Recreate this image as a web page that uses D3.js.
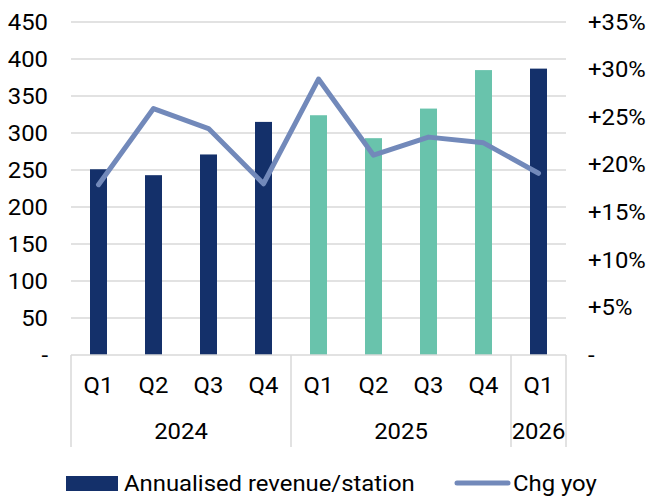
<!DOCTYPE html>
<html>
<head>
<meta charset="utf-8">
<script src="https://cdn.jsdelivr.net/npm/d3@7"></script>
<style>
  body { margin: 0; background: #fff; }
  svg { display: block; font-family: Roboto, "Noto Sans", sans-serif; }
</style>
</head>
<body>
<svg id="chart" width="648" height="497"></svg>
<script>
const width = 648, height = 497;
const svg = d3.select("#chart");

// Chart data
const quarters = ["Q1", "Q2", "Q3", "Q4", "Q1", "Q2", "Q3", "Q4", "Q1"];
const years = ["2024", "2024", "2024", "2024", "2025", "2025", "2025", "2025", "2026"];
const revenue = [251, 243, 271, 315, 324, 293, 333, 385, 387];
const chgYoy = [17.9, 25.9, 23.8, 18.0, 29.0, 21.0, 22.9, 22.3, 19.1];
const leftTicks = [0, 50, 100, 150, 200, 250, 300, 350, 400, 450];
const rightTicks = [0, 5, 10, 15, 20, 25, 30, 35];

const navy = "#14306a", teal = "#69c3ac", lineColor = "#7289ba";
const barColor = (d, i) => years[i] === "2025" ? teal : navy;

const margin = { left: 71, right: 82, top: 22, bottom: 142 };
const plotBottom = height - margin.bottom;
const fontSize = 21.5, stretch = 1.11; // reference text is slightly wide

const idx = d3.range(quarters.length);
const x = d3.scaleBand().domain(idx).range([margin.left, width - margin.right]);
const yL = d3.scaleLinear().domain([0, 450]).range([plotBottom, margin.top]);
const yR = d3.scaleLinear().domain([0, 35]).range([plotBottom, margin.top]);

// text placed with a horizontal stretch
function place(sel, fx, fy) {
    return sel.attr("transform", (d, i) => `translate(${fx(d, i)},${fy(d, i)}) scale(${stretch},1)`)
        .attr("font-size", fontSize).attr("fill", "#000");
}

// gridlines
svg.append("g").selectAll("line")
    .data(leftTicks.filter(d => d > 0)).enter().append("line")
    .attr("x1", margin.left).attr("x2", width - margin.right)
    .attr("y1", d => yL(d)).attr("y2", d => yL(d))
    .attr("stroke", "#d9d9d9").attr("stroke-width", 1.5);

// bars
const barW = 17;
svg.append("g").selectAll("rect")
    .data(revenue).enter().append("rect")
    .attr("x", (d, i) => x(i) + x.bandwidth() / 2 - barW / 2)
    .attr("y", d => yL(d))
    .attr("width", barW)
    .attr("height", d => plotBottom - yL(d))
    .attr("fill", barColor);

// line
const line = d3.line()
    .x((d, i) => x(i) + x.bandwidth() / 2)
    .y(d => yR(d));
svg.append("path").datum(chgYoy)
    .attr("fill", "none").attr("stroke", lineColor).attr("stroke-width", 5)
    .attr("stroke-linejoin", "round").attr("stroke-linecap", "round")
    .attr("d", line);

// left axis labels
place(svg.append("g").selectAll("text")
    .data(leftTicks).enter().append("text"), () => 48, d => yL(d))
    .attr("dy", "0.36em").attr("text-anchor", "end")
    .text(d => d === 0 ? "-" : d);

// right axis labels
place(svg.append("g").selectAll("text")
    .data(rightTicks).enter().append("text"), () => 588, d => yR(d))
    .attr("dy", "0.36em").attr("text-anchor", "start")
    .text(d => d === 0 ? "-" : "+" + d + "%");

// x axis line
svg.append("line")
    .attr("x1", margin.left).attr("x2", width - margin.right)
    .attr("y1", plotBottom).attr("y2", plotBottom)
    .attr("stroke", "#d9d9d9").attr("stroke-width", 1.5);

// quarter labels
place(svg.append("g").selectAll("text")
    .data(quarters).enter().append("text"), (d, i) => x(i) + x.bandwidth() / 2, () => 393)
    .attr("text-anchor", "middle")
    .text(d => d);

// year groups
const groups = d3.groups(idx, i => years[i]).map(([year, ids]) => ({
    year, start: x(ids[0]), end: x(ids[ids.length - 1]) + x.bandwidth()
}));
const bounds = [groups[0].start].concat(groups.map(g => g.end));
svg.append("g").selectAll("line")
    .data(bounds).enter().append("line")
    .attr("x1", d => d).attr("x2", d => d)
    .attr("y1", plotBottom).attr("y2", 447)
    .attr("stroke", "#d9d9d9").attr("stroke-width", 1.5);
place(svg.append("g").selectAll("text")
    .data(groups).enter().append("text"), d => (d.start + d.end) / 2, () => 439)
    .attr("text-anchor", "middle")
    .text(d => d.year);

// legend
const legend = svg.append("g");
legend.append("rect").attr("x", 66).attr("y", 476).attr("width", 52).attr("height", 15).attr("fill", navy);
place(legend.append("text"), () => 124, () => 491).text("Annualised revenue/station");
legend.append("line").attr("x1", 457).attr("x2", 508).attr("y1", 483).attr("y2", 483)
    .attr("stroke", lineColor).attr("stroke-width", 5).attr("stroke-linecap", "round");
place(legend.append("text"), () => 513, () => 491).text("Chg yoy");
</script>
</body>
</html>
